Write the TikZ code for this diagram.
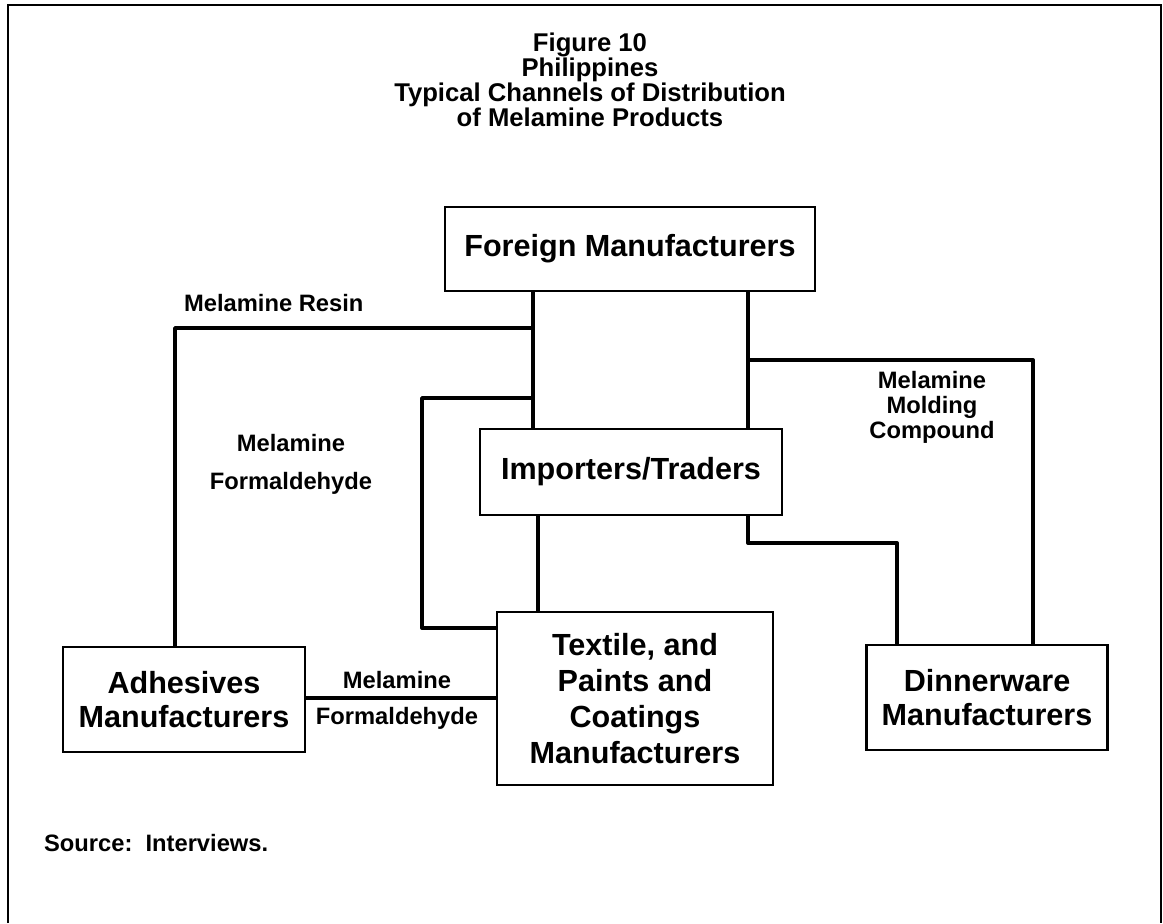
\documentclass[tikz,border=0pt]{standalone}
\usepackage{fontspec}
\setmainfont{Liberation Sans}
\usetikzlibrary{positioning}

\newcommand{\bxfont}{\bfseries\fontsize{17.4}{19.3}\selectfont}
\newcommand{\lblfont}{\bfseries\fontsize{13.5}{14.2}\selectfont}
\newcommand{\ttlfont}{\bfseries\fontsize{14.6}{14.2}\selectfont}

\begin{document}
\begin{tikzpicture}[
        x=0.02cm, y=-0.02cm,
        box/.style={rectangle, draw, line width=1.4pt, align=center, font=\bxfont, inner sep=0pt},
        link/.style={line width=2.2pt, line join=round},
        lbl/.style={align=center, font=\lblfont, inner sep=1pt},
        frame/.style={line width=1.6pt}
    ]
        \useasboundingbox (0,0) rectangle (1163,923);

        % Page frame
        \draw[frame] (8,923) -- (8,5) -- (1161,5) -- (1161,923);

        % Heading
        \node[font=\ttlfont, align=center] (title) at (590,80)
            {Figure 10\\Philippines\\Typical Channels of Distribution\\of Melamine Products};

        % Boxes
        \node[box, minimum width=7.4cm, minimum height=1.68cm] (foreign) at (630,249) {Foreign Manufacturers};
        \node[box, minimum width=6.04cm, minimum height=1.72cm] (importers) at (631,472) {Importers/Traders};
        \node[box, minimum width=5.52cm, minimum height=3.46cm, font=\bfseries\fontsize{17.4}{20.4}\selectfont] (textile) at (635,698.5)
            {Textile, and\\Paints and\\Coatings\\Manufacturers};
        \node[box, minimum width=4.84cm, minimum height=2.1cm] (adhesives) at (184,699.5)
            {Adhesives\\Manufacturers};
        \node[box, minimum width=4.82cm, minimum height=2.1cm] (dinnerware) at (987,697.5)
            {Dinnerware\\Manufacturers};

        % Columns and rows of the connectors
        \coordinate (c1) at (533,0);
        \coordinate (c2) at (748,0);
        \coordinate (c3) at (175,0);
        \coordinate (c4) at (422,0);
        \coordinate (c5) at (538,0);
        \coordinate (c6) at (897,0);
        \coordinate (c7) at (1033,0);
        \coordinate (resin) at (0,328);
        \coordinate (mf) at (0,398);
        \coordinate (mold) at (0,360);
        \coordinate (low) at (0,543);
        \coordinate (mfin) at (0,628);
        \coordinate (adh) at (0,698);

        % Connectors
        \draw[link] (foreign.south -| c1) -- (importers.north -| c1);
        \draw[link] (foreign.south -| c2) -- (importers.north -| c2);
        \draw[link] (c1 |- resin) -| (adhesives.north -| c3);
        \draw[link] (c1 |- mf) -| (c4 |- mfin) -- (textile.west |- mfin);
        \draw[link] (c2 |- mold) -| (dinnerware.north -| c7);
        \draw[link] (importers.south -| c5) -- (textile.north -| c5);
        \draw[link] (importers.south -| c2) |- (c6 |- low) -- (dinnerware.north -| c6);
        \draw[link] (adhesives.east |- adh) -- (textile.west |- adh);

        % Product labels
        \node[lbl, anchor=west] (resinlbl) at (182,303) {Melamine Resin};
        \node[lbl, font=\bfseries\fontsize{13.5}{21.5}\selectfont] (mflbl) at (291,464) {Melamine\\Formaldehyde};
        \node[lbl] (moldlbl) at (932,407) {Melamine\\Molding\\Compound};
        \node[lbl] (adhlblA) at (397,680) {Melamine};
        \node[lbl] (adhlblB) at (397,718) {Formaldehyde};

        % Source line
        \node[lbl, anchor=west] (source) at (42,843) {Source:\ \ Interviews.};
    \end{tikzpicture}
\end{document}
